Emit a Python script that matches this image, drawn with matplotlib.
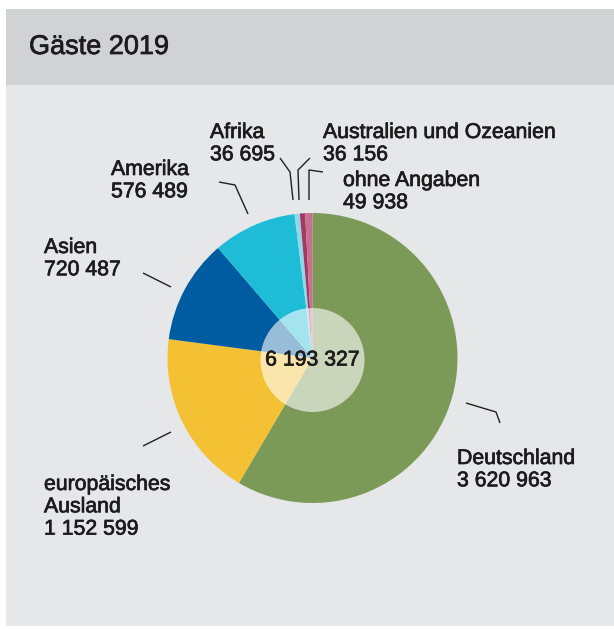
import matplotlib.pyplot as plt
import matplotlib.patheffects as pe
from matplotlib.patches import Rectangle, Circle

# data
categories = ["Deutschland", "europäisches\nAusland", "Asien", "Amerika",
              "Afrika", "Australien und Ozeanien", "ohne Angaben"]
guests = [3620963, 1152599, 720487, 576489, 36695, 36156, 49938]
total = 6193327
colors = ["#7B9A58", "#F3C133", "#005CA0", "#1EBCD7",
          "#8ED8EA", "#A53862", "#C7708F"]
title = "Gäste 2019"

W, H = 614, 629


def Y(y):
    # image pixel row -> axes y
    return H - y


def fmt(v):
    return f"{v:,}".replace(",", " ")


plt.rcParams['font.family'] = ['Liberation Sans', 'DejaVu Sans']
txt = "#1E1B1C"
fs = 15.3
heavy = [pe.withStroke(linewidth=0.5, foreground=txt)]

fig = plt.figure(figsize=(W / 100, H / 100), dpi=100)
ax = fig.add_axes([0, 0, 1, 1])

# panel background
ax.add_patch(Rectangle((6, Y(626)), W - 6, 626 - 85, color="#E6E7E9", lw=0))
ax.add_patch(Rectangle((6, Y(85)), W - 6, 85 - 9, color="#D1D2D4", lw=0))
ax.text(29, Y(47), title, fontsize=19.5, color=txt, va="center", ha="left",
        path_effects=heavy)

cx, cy, r = 312.5, Y(358), 145
ax.pie(guests, colors=colors, startangle=90, counterclock=False,
       center=(cx, cy), radius=r, wedgeprops=dict(linewidth=0))

ax.add_patch(Circle((cx, Y(360)), 52, color="white", alpha=0.6, lw=0))
ax.text(cx, Y(360), fmt(total), fontsize=fs, color=txt,
        ha="center", va="center", path_effects=heavy)

# label placement (left x, cap-top y in image pixels)
label_pos = [(457, 449), (44, 475), (44, 238), (111, 160),
             (210, 123), (323, 123), (343, 171)]
leaders = [
    [(466, 403), (496, 412), (500, 423)],
    [(171, 432), (143, 446)],
    [(143, 273), (171, 287)],
    [(219, 182), (235, 185), (248, 214)],
    [(280, 158), (290, 172), (293, 200)],
    [(310, 158), (298, 170), (299, 200)],
    [(323, 172), (309, 170), (309, 200)],
]

for name, val, (lx, ly), pts in zip(categories, guests, label_pos, leaders):
    ax.text(lx, Y(ly), f"{name}\n{fmt(val)}", fontsize=fs, color=txt,
            ha="left", va="top", linespacing=1.22, path_effects=heavy)
    xs = [p[0] for p in pts]
    ys = [Y(p[1]) for p in pts]
    ax.plot(xs, ys, color="#231F20", lw=1.0, solid_capstyle="butt")

ax.set_xlim(0, W)
ax.set_ylim(0, H)
ax.set_aspect("equal")
ax.axis("off")

fig.savefig("out.png", dpi=100, facecolor="white")
